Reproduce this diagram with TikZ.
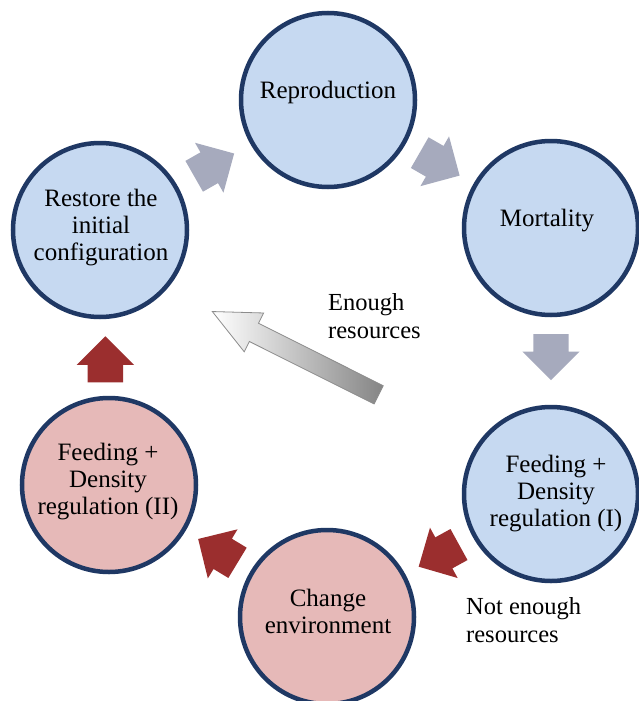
\documentclass[tikz,border=0pt]{standalone}
\usepackage{fontspec}
\setmainfont{Liberation Serif}
\usetikzlibrary{shapes.arrows,calc}
\definecolor{cblue}{RGB}{198,217,241}
\definecolor{cpink}{RGB}{230,185,184}
\definecolor{cedge}{RGB}{31,56,100}
\definecolor{cgray}{RGB}{166,170,189}
\definecolor{cred}{RGB}{155,46,46}
\begin{document}
\begin{tikzpicture}[x=1pt,y=-1pt,
  circ/.style={circle, draw=cedge, line width=4.5pt, minimum size=174pt, inner sep=0pt},
  bluec/.style={circ, fill=cblue},
  pinkc/.style={circ, fill=cpink},
  lbl/.style={align=center, font=\fontsize{25}{27}\selectfont, inner sep=0pt},
  note/.style={align=left, anchor=west, font=\fontsize{24.5}{28}\selectfont, inner sep=0pt},
  blockarrow/.style={single arrow, minimum height=46pt, inner xsep=0pt, inner ysep=17.5pt,
    single arrow head extend=11pt, draw=none, anchor=tail},
  grayarrow/.style={blockarrow, fill=cgray},
  redarrow/.style={blockarrow, fill=cred},
  bigarrow/.style={single arrow, minimum height=186pt, inner xsep=0pt, inner ysep=9.8pt,
    single arrow head extend=11.5pt, single arrow tip angle=50, anchor=tail,
    draw=black!45, line width=0.8pt, left color=white, right color=black!48}
]
\useasboundingbox (0,0) rectangle (638,701);
\fill[white] (0,0) rectangle (638,701);

% circles
\node[bluec] (restore) at (100,230) {};
\node[bluec] (repro) at (328,100) {};
\node[bluec] (mort) at (551,228) {};
\node[bluec] (fd1) at (551,494) {};
\node[pinkc] (change) at (327,617) {};
\node[pinkc] (fd2) at (109,485) {};

% labels
\node[lbl] (restore-l) at (101,228) {Restore the\\initial\\configuration};
\node[lbl] (repro-l) at (328,92) {Reproduction};
\node[lbl] (mort-l) at (547,221) {Mortality};
\node[lbl] (fd1-l) at (556,494) {Feeding +\\Density\\regulation (I)};
\node[lbl] (change-l) at (328,611) {Change\\environment};
\node[lbl] (fd2-l) at (108,482) {Feeding +\\Density\\regulation (II)};

% block arrows (tail placed about half a length before the midpoint of the two circles)
\node[grayarrow, rotate=29.7] (a1) at ($(restore)!0.5!(repro)!23pt!(restore)$) {};
\node[grayarrow, rotate=-29.9] (a2) at ($(repro)!0.5!(mort)!23pt!(repro)$) {};
\node[grayarrow, rotate=-90] (a3) at ($(mort)!0.5!(fd1)!27pt!(mort)$) {};
\node[redarrow, rotate=-151.2] (a4) at ($(fd1)!0.5!(change)!23pt!(fd1)$) {};
\node[redarrow, rotate=148.8] (a5) at ($(change)!0.5!(fd2)!23pt!(change)$) {};
\node[redarrow, rotate=90] (a6) at ($(fd2)!0.5!(restore)!25pt!(fd2)$) {};

% big arrow
\coordinate (bigtail) at (379,395);
\node[bigarrow, rotate=153.4] (big) at (bigtail) {};

% notes
\node[note] (enough) at (328,316) {Enough\\resources};
\node[note] (notenough) at (466,620) {Not enough\\resources};
\end{tikzpicture}
\end{document}
